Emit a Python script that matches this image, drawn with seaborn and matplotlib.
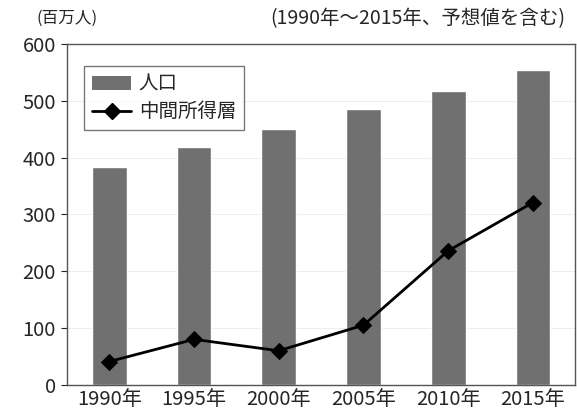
import pandas as pd
import matplotlib
matplotlib.use('Agg')
import matplotlib.pyplot as plt
import seaborn as sns
from matplotlib.lines import Line2D
from matplotlib.patches import Patch

# データ (百万人)
years = ['1990年', '1995年', '2000年', '2005年', '2010年', '2015年']
population = [383, 419, 451, 485, 518, 554]
middle_income = [41, 80, 60, 105, 236, 321]

df = pd.DataFrame({'year': years, 'population': population, 'middle': middle_income})

sns.set_style('white')
plt.rcParams['font.family'] = ['Noto Sans CJK JP', 'DejaVu Sans']

fig = plt.figure(figsize=(5.77, 4.12), dpi=100)
ax = fig.add_axes([0.116, 0.066, 0.881, 0.827])

# 棒グラフ: 人口
sns.barplot(data=df, x='year', y='population', color='#707070', saturation=1,
            width=0.41, ax=ax)

# 折れ線: 中間所得層
sns.lineplot(data=df, x='year', y='middle', color='black', linewidth=2,
             marker='D', markersize=8, markeredgecolor='black', ax=ax, sort=False)

ax.set_xlim(-0.5, 5.5)
ax.set_ylim(0, 600)
ax.set_yticks(range(0, 601, 100))
ax.set_xlabel('')
ax.set_ylabel('')
ax.tick_params(axis='y', labelsize=14.5, length=4, direction='out', left=True, pad=4)
ax.tick_params(axis='x', labelsize=14.5, length=0, pad=3)
ax.yaxis.grid(True, color='#eeeeee', linewidth=0.8)
ax.set_axisbelow(True)

for s in ax.spines.values():
    s.set_color('#555555')
    s.set_linewidth(1)

# 凡例
handles = [Patch(facecolor='#707070', edgecolor='none'),
           Line2D([], [], color='black', linewidth=2, marker='D', markersize=8)]
leg = ax.legend(handles, ['人口', '中間所得層'], loc='upper left',
                bbox_to_anchor=(0.015, 0.965), fontsize=14, frameon=True,
                fancybox=False, borderpad=0.4, handlelength=2.0,
                handletextpad=0.4, labelspacing=0.35)
leg.get_frame().set_edgecolor('#555555')
leg.get_frame().set_linewidth(1)

fig.text(0.064, 0.955, '(百万人)', fontsize=12, ha='left', va='center')
fig.text(0.98, 0.955, '(1990年～2015年、予想値を含む)', fontsize=14,
         ha='right', va='center')

fig.savefig('out.png', dpi=100)
